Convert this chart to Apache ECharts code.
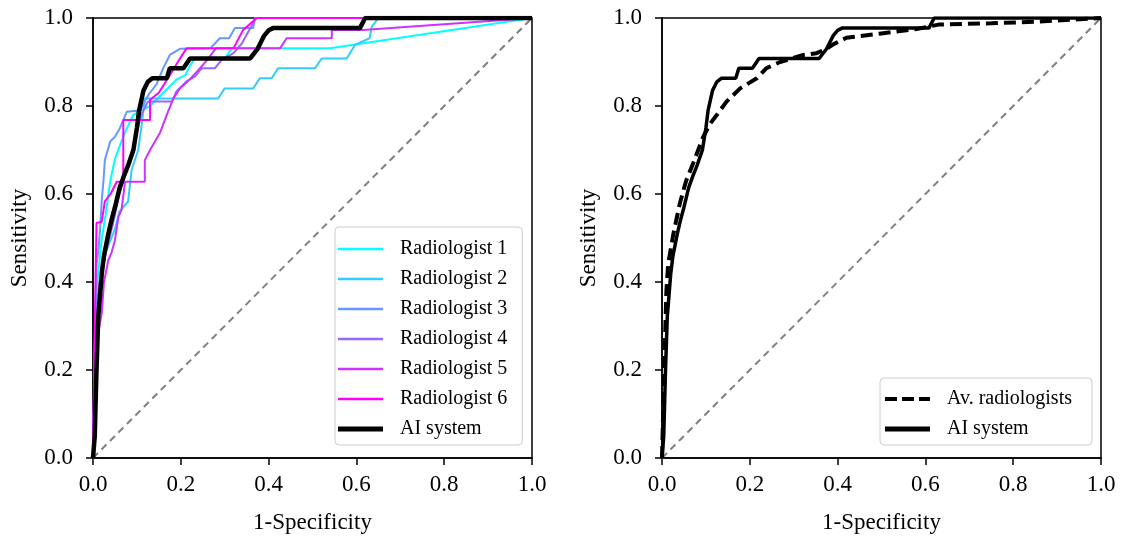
<!DOCTYPE html>
<html><head><meta charset="utf-8">
<script src="https://cdn.jsdelivr.net/npm/echarts@6/dist/echarts.min.js"></script>
<style>html,body{margin:0;padding:0;background:#fff}#c{width:1123px;height:540px}</style>
</head><body><div id="c"></div>
<script>
const tickValues = [0, 0.2, 0.4, 0.6, 0.8, 1.0];
const radiologistNames = ['Radiologist 1','Radiologist 2','Radiologist 3','Radiologist 4','Radiologist 5','Radiologist 6'];
const radiologistColors = ['#00ffff','#33ccff','#6699ff','#9966ff','#cc33ff','#ff00ff'];
const r1 = [[0,0],[0.005,0.25],[0.01,0.4],[0.02,0.5],[0.03,0.56],[0.039,0.628],[0.05,0.68],[0.065,0.72],[0.077,0.749],[0.092,0.78],[0.11,0.79],[0.13,0.8],[0.15,0.82],[0.17,0.84],[0.19,0.86],[0.21,0.87],[0.22,0.89],[0.232,0.908],[0.3,0.908],[0.316,0.931],[0.54,0.931],[1,1]];
const r2 = [[0,0],[0.005,0.25],[0.01,0.35],[0.02,0.42],[0.03,0.47],[0.05,0.52],[0.06,0.56],[0.08,0.583],[0.088,0.655],[0.103,0.7],[0.11,0.75],[0.118,0.817],[0.285,0.817],[0.3,0.84],[0.365,0.84],[0.38,0.863],[0.407,0.863],[0.422,0.886],[0.506,0.886],[0.521,0.908],[0.578,0.908],[0.597,0.939],[0.63,0.954],[0.635,0.98],[0.65,1],[1,1]];
const r3 = [[0,0],[0.003,0.2],[0.006,0.35],[0.008,0.44],[0.012,0.47],[0.016,0.518],[0.02,0.586],[0.024,0.632],[0.027,0.677],[0.039,0.719],[0.05,0.73],[0.061,0.749],[0.077,0.787],[0.107,0.79],[0.126,0.825],[0.145,0.85],[0.16,0.886],[0.175,0.916],[0.198,0.93],[0.267,0.931],[0.289,0.954],[0.31,0.954],[0.323,0.977],[0.365,0.977],[0.369,1],[1,1]];
const r4 = [[0,0],[0.005,0.3],[0.015,0.4],[0.03,0.47],[0.045,0.53],[0.06,0.6],[0.075,0.65],[0.09,0.7],[0.1,0.74],[0.11,0.78],[0.125,0.81],[0.18,0.81],[0.19,0.833],[0.213,0.856],[0.232,0.867],[0.248,0.886],[0.278,0.886],[0.293,0.905],[0.32,0.92],[0.339,0.942],[0.36,0.98],[0.37,1],[1,1]];
const r5 = [[0,0],[0.005,0.25],[0.02,0.329],[0.025,0.4],[0.035,0.45],[0.042,0.466],[0.05,0.495],[0.058,0.548],[0.065,0.564],[0.073,0.628],[0.118,0.628],[0.118,0.677],[0.13,0.7],[0.153,0.74],[0.168,0.78],[0.183,0.817],[0.198,0.84],[0.22,0.86],[0.244,0.886],[0.26,0.905],[0.28,0.931],[0.426,0.931],[0.441,0.954],[0.544,0.954],[0.544,0.973],[0.615,0.973],[1,1]];
const r6 = [[0,0],[0.004,0.3],[0.008,0.534],[0.02,0.537],[0.027,0.583],[0.04,0.6],[0.054,0.628],[0.069,0.628],[0.069,0.768],[0.13,0.768],[0.13,0.814],[0.15,0.83],[0.175,0.87],[0.198,0.908],[0.213,0.931],[0.32,0.931],[0.342,0.973],[0.373,1],[1,1]];
const aiSystem = [[0,0],[0.004,0.05],[0.008,0.2],[0.012,0.32],[0.016,0.37],[0.02,0.42],[0.025,0.46],[0.035,0.51],[0.042,0.54],[0.05,0.57],[0.061,0.615],[0.07,0.64],[0.08,0.665],[0.092,0.7],[0.1,0.75],[0.105,0.79],[0.115,0.835],[0.125,0.855],[0.135,0.863],[0.168,0.863],[0.175,0.886],[0.206,0.886],[0.221,0.908],[0.358,0.908],[0.375,0.93],[0.39,0.96],[0.4,0.972],[0.41,0.977],[0.608,0.977],[0.62,1],[1,1]];
const avRadiologists = [[0,0],[0.005,0.2],[0.01,0.38],[0.014,0.44],[0.026,0.51],[0.041,0.58],[0.055,0.63],[0.071,0.67],[0.094,0.73],[0.11,0.76],[0.125,0.78],[0.147,0.81],[0.178,0.84],[0.216,0.863],[0.238,0.886],[0.269,0.9],[0.322,0.916],[0.352,0.92],[0.375,0.93],[0.39,0.94],[0.42,0.955],[0.5,0.965],[0.58,0.975],[0.63,0.985],[0.75,0.988],[0.86,0.992],[1,1]];
const chanceLine = [[0,0],[1,1]];
const radiologistData = [r1,r2,r3,r4,r5,r6];

const FONT = 'Liberation Serif';
// legend swatch shapes (45x20 box, tiny corner dots keep the box size)
const C0 = 'M0,0L0.01,0L0,0.01Z ', C1 = ' M45,20L44.99,20L45,19.99Z';
const iconThin = 'path://' + C0 + 'M0,8.75L45,8.75L45,11.25L0,11.25Z' + C1;
const iconThick = 'path://' + C0 + 'M0,7.5L45,7.5L45,12.5L0,12.5Z' + C1;
const iconDash = 'path://' + C0 + 'M0,8L12,8L12,12L0,12Z M17,8L29,8L29,12L17,12Z M34,8L45,8L45,12L34,12Z' + C1;

const chart = echarts.init(document.getElementById('c'), null, {renderer:'canvas'});
function xAx(gi){return {type:'value',gridIndex:gi,min:0,max:1,interval:0.2,name:'1-Specificity',nameLocation:'middle',nameGap:53,
  nameTextStyle:{fontFamily:FONT,fontSize:23,color:'#000'},
  axisLine:{show:true,lineStyle:{color:'#000',width:1.5}},axisTick:{show:true,inside:false,length:7,lineStyle:{color:'#000',width:1.5}},
  axisLabel:{fontFamily:FONT,fontSize:23,color:'#000',margin:15,formatter:v=>v.toFixed(1)},splitLine:{show:false}};}
function yAx(gi){return {type:'value',gridIndex:gi,min:0,max:1,interval:0.2,name:'Sensitivity',nameLocation:'middle',nameGap:62,nameRotate:90,
  nameTextStyle:{fontFamily:FONT,fontSize:23,color:'#000'},
  axisLine:{show:true,lineStyle:{color:'#000',width:1.5}},axisTick:{show:true,inside:false,length:7,lineStyle:{color:'#000',width:1.5}},
  axisLabel:{fontFamily:FONT,fontSize:23,color:'#000',margin:20,formatter:v=>v.toFixed(1)},splitLine:{show:false}};}
const series = [];
[0,1].forEach(gi=>series.push({type:'line',xAxisIndex:gi,yAxisIndex:gi,data:chanceLine,symbol:'none',silent:true,
  lineStyle:{color:'#808080',width:2,type:[7,5]},z:1}));
radiologistData.forEach((d,i)=>series.push({name:radiologistNames[i],type:'line',xAxisIndex:0,yAxisIndex:0,data:d,symbol:'none',
  itemStyle:{color:radiologistColors[i]},lineStyle:{color:radiologistColors[i],width:2},z:2}));
series.push({name:'AI system',type:'line',xAxisIndex:0,yAxisIndex:0,data:aiSystem,symbol:'none',itemStyle:{color:'#000'},lineStyle:{color:'#000',width:4.5},z:3});
series.push({name:'Av. radiologists',type:'line',xAxisIndex:1,yAxisIndex:1,data:avRadiologists,symbol:'none',itemStyle:{color:'#000'},lineStyle:{color:'#000',width:4,type:[12,6]},z:3});
series.push({name:'AI system',type:'line',xAxisIndex:1,yAxisIndex:1,data:aiSystem,symbol:'none',itemStyle:{color:'#000'},lineStyle:{color:'#000',width:3.5},z:3});
const legendCommon = {orient:'vertical',backgroundColor:'#fff',borderColor:'#cccccc',borderWidth:1,borderRadius:4,
  itemWidth:45,itemHeight:20,itemGap:10,selectedMode:false,symbolKeepAspect:false,
  textStyle:{fontFamily:FONT,fontSize:20,lineHeight:20,color:'#000',padding:[0,0,0,12]}};
const leftLegendData = radiologistNames.map(n=>({name:n,icon:iconThin})).concat([{name:'AI system',icon:iconThick}]);
const rightLegendData = [{name:'Av. radiologists',icon:iconDash},{name:'AI system',icon:iconThick}];
chart.setOption({
  animation:false,backgroundColor:'#fff',
  grid:[{left:93,top:18,width:439,height:440,show:true,borderColor:'#000',borderWidth:1.5,backgroundColor:'#fff'},
        {left:662,top:18,width:439,height:440,show:true,borderColor:'#000',borderWidth:1.5,backgroundColor:'#fff'}],
  xAxis:[xAx(0),xAx(1)],yAxis:[yAx(0),yAx(1)],
  legend:[Object.assign({},legendCommon,{left:335,top:227,padding:[12,15,6,3],data:leftLegendData}),
          Object.assign({},legendCommon,{left:880,top:378,padding:[11,20,6,5],data:rightLegendData})],
  series:series
});
</script></body></html>
